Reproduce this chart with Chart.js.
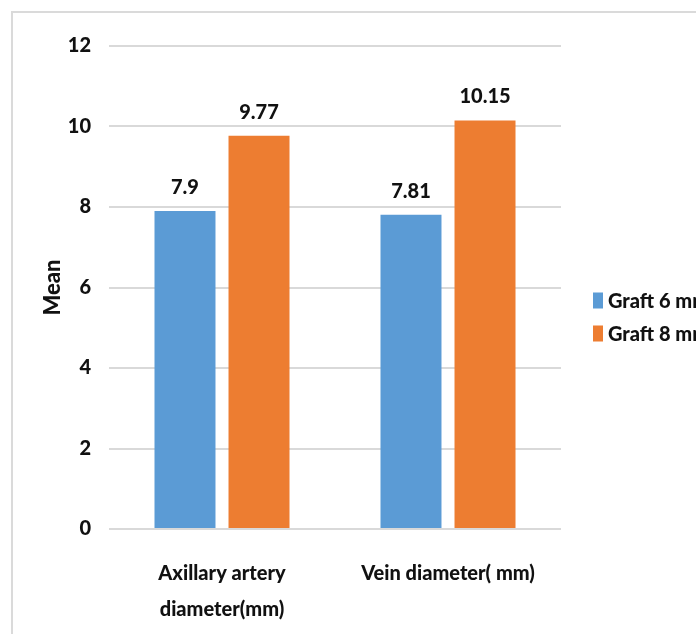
<!DOCTYPE html>
<html>
<head>
<meta charset="utf-8">
<script src="https://cdn.jsdelivr.net/npm/chart.js@4.4.1/dist/chart.umd.min.js"></script>
<style>
  html, body { margin: 0; padding: 0; background: #ffffff; overflow: hidden; }
  #wrap { position: relative; width: 696px; height: 634px; }
  #frame {
    position: absolute; left: 11px; top: 11px; width: 720px; height: 660px;
    border-left: 2px solid #dadada; border-top: 2px solid #dadada;
  }
  canvas { position: absolute; left: 0; top: 0; }
</style>
</head>
<body>
<div id="wrap">
  <div id="frame"></div>
  <canvas id="chart" width="696" height="634"></canvas>
</div>
<script>
// Category labels (multi-line where the label wraps)
const categories = [["Axillary artery", "diameter(mm)"], "Vein diameter( mm)"];
// Mean diameters per graft group
const graft6mm = [7.9, 7.81];
const graft8mm = [9.77, 10.15];
const seriesNames = ["Graft 6 mm", "Graft 8 mm"];
const seriesColors = ["#5B9BD5", "#ED7D31"];
// Value axis
const yMin = 0;
const yMax = 12;
const yStep = 2;
const yTitle = "Mean";

const FONT = "Lato, 'Open Sans', sans-serif";
const WEIGHT = "900";
const TEXT_COLOR = "#111111";

// Value labels above each bar
const valueLabels = {
  id: "valueLabels",
  afterDatasetsDraw(chart, args, opts) {
    const ctx = chart.ctx;
    ctx.save();
    ctx.font = WEIGHT + " " + opts.size + "px " + FONT;
    ctx.fillStyle = TEXT_COLOR;
    ctx.textAlign = "center";
    ctx.textBaseline = "alphabetic";
    chart.data.datasets.forEach((ds, i) => {
      const meta = chart.getDatasetMeta(i);
      meta.data.forEach((bar, j) => {
        ctx.fillText(String(ds.data[j]), bar.x, bar.y - opts.offset);
      });
    });
    ctx.restore();
  }
};

// Series key to the right of the plot
const sideLegend = {
  id: "sideLegend",
  afterDraw(chart, args, opts) {
    const ctx = chart.ctx;
    const area = chart.chartArea;
    const n = chart.data.datasets.length;
    const x = area.right + opts.gapLeft;
    const firstY = chart.height / 2 - (opts.spacing * (n - 1)) / 2;
    ctx.save();
    ctx.font = WEIGHT + " " + opts.size + "px " + FONT;
    ctx.textAlign = "left";
    ctx.textBaseline = "middle";
    chart.data.datasets.forEach((ds, i) => {
      const cy = firstY + i * opts.spacing;
      ctx.fillStyle = ds.backgroundColor;
      ctx.fillRect(x, cy - opts.boxH / 2, opts.boxW, opts.boxH);
      ctx.fillStyle = TEXT_COLOR;
      ctx.fillText(ds.label, x + opts.boxW + opts.textGap, cy + 1);
    });
    ctx.restore();
  }
};

new Chart(document.getElementById("chart"), {
  type: "bar",
  data: {
    labels: categories,
    datasets: [
      { label: seriesNames[0], data: graft6mm, backgroundColor: seriesColors[0] },
      { label: seriesNames[1], data: graft8mm, backgroundColor: seriesColors[1] }
    ]
  },
  options: {
    responsive: false,
    animation: false,
    devicePixelRatio: 1,
    layout: { padding: { left: 12, right: 135, top: 46, bottom: 0 } },
    datasets: {
      bar: { categoryPercentage: 0.655, barPercentage: 0.824 }
    },
    scales: {
      x: {
        grid: { display: false, drawTicks: false },
        border: { display: false },
        ticks: {
          color: TEXT_COLOR,
          padding: 27,
          maxRotation: 0,
          autoSkip: false,
          font: { family: FONT, size: 20, weight: WEIGHT, lineHeight: 1.8 }
        },
        afterFit(scale) { scale.height = 105; }
      },
      y: {
        min: yMin,
        max: yMax,
        grid: { color: "#d9d9d9", lineWidth: 2, drawTicks: false },
        border: { display: false },
        ticks: {
          stepSize: yStep,
          color: TEXT_COLOR,
          padding: 18,
          font: { family: FONT, size: 20, weight: WEIGHT }
        },
        title: {
          display: true,
          text: yTitle,
          color: TEXT_COLOR,
          padding: { top: 28, bottom: 0 },
          font: { family: FONT, size: 22, weight: WEIGHT }
        },
        afterFit(scale) { scale.width = 97; }
      }
    },
    plugins: {
      legend: { display: false },
      tooltip: { enabled: false },
      valueLabels: { size: 20, offset: 17 },
      sideLegend: { size: 20, gapLeft: 32, boxW: 10, boxH: 16, textGap: 5, spacing: 33 }
    }
  },
  plugins: [valueLabels, sideLegend]
});
</script>
</body>
</html>
